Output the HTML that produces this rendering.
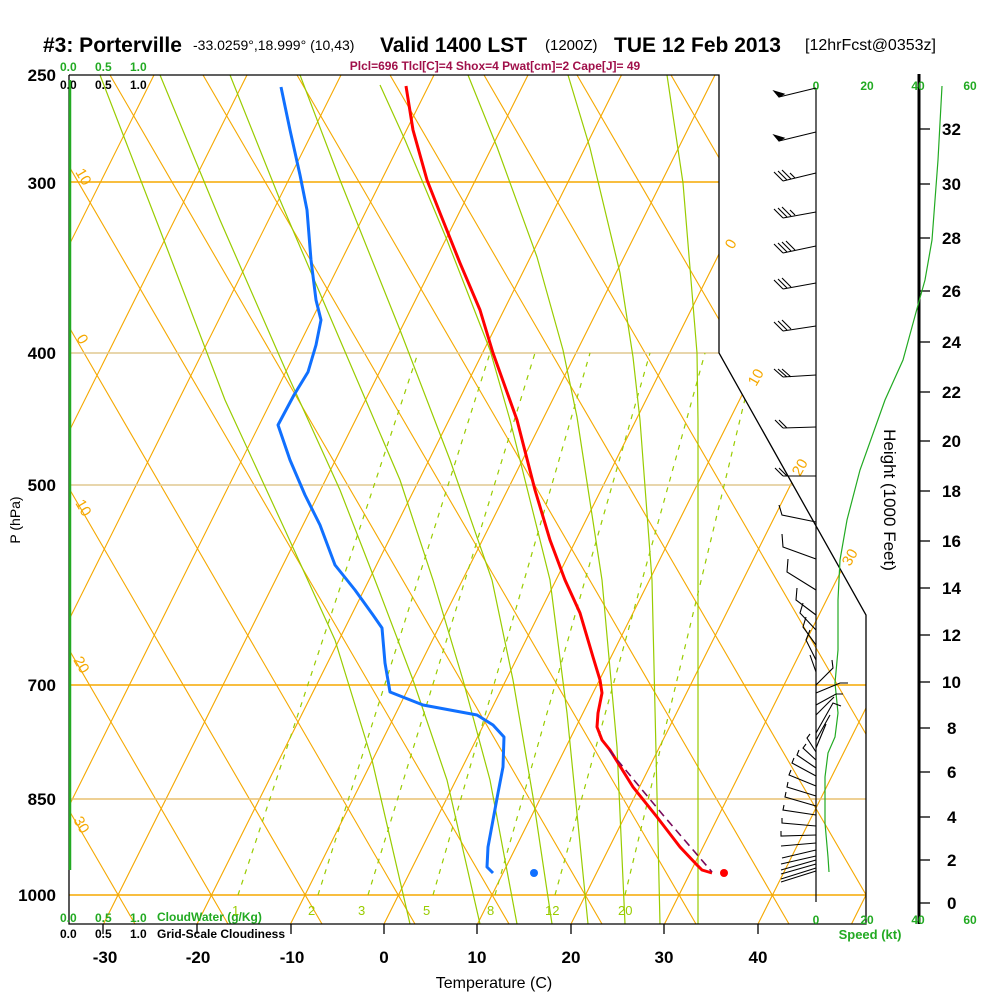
<!DOCTYPE html>
<html><head><meta charset="utf-8"><style>
body{margin:0;background:#fff;}
svg{display:block;font-family:"Liberation Sans",sans-serif;}
</style></head><body>
<svg width="1000" height="1000" viewBox="0 0 1000 1000" xmlns="http://www.w3.org/2000/svg">
<defs><clipPath id="c"><polygon points="69,75 719,75 719,353 866,615 866,924 69,924"/></clipPath></defs>
<rect width="1000" height="1000" fill="#fff"/>
<!-- header -->
<text x="43" y="52" font-size="21" font-weight="bold">#3: Porterville</text>
<text x="193" y="50" font-size="14">-33.0259°,18.999° (10,43)</text>
<text x="380" y="52" font-size="21" font-weight="bold">Valid 1400 LST</text>
<text x="545" y="50" font-size="15">(1200Z)</text>
<text x="614" y="52" font-size="21" font-weight="bold">TUE 12 Feb 2013</text>
<text x="805" y="50" font-size="16">[12hrFcst@0353z]</text>
<text x="495" y="70" font-size="12" font-weight="bold" fill="#a0104a" text-anchor="middle">Plcl=696 Tlcl[C]=4 Shox=4 Pwat[cm]=2 Cape[J]= 49</text>
<g font-size="12" font-weight="bold" fill="#22aa22"><text x="60" y="71">0.0</text><text x="95" y="71">0.5</text><text x="130" y="71">1.0</text></g>
<g font-size="12" font-weight="bold"><text x="60" y="89">0.0</text><text x="95" y="89">0.5</text><text x="130" y="89">1.0</text></g>
<g clip-path="url(#c)">
<g stroke="#f5a800" stroke-width="1.1" fill="none">
<line x1="-364" y1="924" x2="60" y2="75"/><line x1="-270" y1="924" x2="154" y2="75"/><line x1="-177" y1="924" x2="247" y2="75"/><line x1="-83" y1="924" x2="341" y2="75"/><line x1="10" y1="924" x2="434" y2="75"/><line x1="103.5" y1="924" x2="528" y2="75"/><line x1="197" y1="924" x2="621.5" y2="75"/><line x1="290.5" y1="924" x2="715" y2="75"/><line x1="384" y1="924" x2="808.5" y2="75"/><line x1="477.5" y1="924" x2="902" y2="75"/><line x1="571" y1="924" x2="995.5" y2="75"/><line x1="664.5" y1="924" x2="1089" y2="75"/><line x1="758" y1="924" x2="1182.5" y2="75"/><line x1="851.5" y1="924" x2="1276" y2="75"/>
<line x1="135" y1="924" x2="-358" y2="75"/><line x1="228" y1="924" x2="-264" y2="75"/><line x1="322" y1="924" x2="-171" y2="75"/><line x1="415" y1="924" x2="-77" y2="75"/><line x1="509" y1="924" x2="16" y2="75"/><line x1="602" y1="924" x2="110" y2="75"/><line x1="696" y1="924" x2="203" y2="75"/><line x1="789" y1="924" x2="297" y2="75"/><line x1="883" y1="924" x2="390" y2="75"/><line x1="976" y1="924" x2="484" y2="75"/><line x1="1070" y1="924" x2="577" y2="75"/><line x1="1163" y1="924" x2="671" y2="75"/><line x1="1257" y1="924" x2="764" y2="75"/><line x1="1350" y1="924" x2="858" y2="75"/>
</g>
<g stroke-width="1.4"><line x1="69" y1="182" x2="900" y2="182" stroke="#f5a800"/><line x1="69" y1="353" x2="900" y2="353" stroke="#e0c890"/><line x1="69" y1="485" x2="900" y2="485" stroke="#e0c890"/><line x1="69" y1="685" x2="900" y2="685" stroke="#f5a800"/><line x1="69" y1="799" x2="900" y2="799" stroke="#e8c070"/><line x1="69" y1="895" x2="900" y2="895" stroke="#f5a800"/></g>
<g stroke="#99cc00" stroke-width="1.2" fill="none">
<polyline points="100,75 160,230 225,400 285,530 335,640 372,760 410,924"/>
<polyline points="160,75 220,220 290,380 340,490 380,593 413,680 447,780 480,924"/>
<polyline points="230,75 280,200 340,340 400,480 433,580 463,680 490,780 517,924"/>
<polyline points="300,75 340,180 400,330 450,460 492,580 513,680 533,797 552,924"/>
<polyline points="380,85 405,140 447,240 490,350 510,420 550,580 567,713 588,924"/>
<polyline points="468,75 497,147 537,257 563,350 577,417 602,580 617,747 625,924"/>
<polyline points="568,75 590,148 620,273 633,357 640,420 652,580 660,924"/>
<polyline points="667,75 683,183 697,353 698,420 698,924"/>
</g>
<g stroke="#99cc00" stroke-width="1.2" stroke-dasharray="5,6">
<line x1="238" y1="895" x2="418" y2="353"/><line x1="318" y1="895" x2="490" y2="353"/><line x1="368" y1="895" x2="535" y2="353"/><line x1="433" y1="895" x2="590" y2="353"/><line x1="495" y1="895" x2="650" y2="353"/><line x1="555" y1="895" x2="705" y2="353"/><line x1="625" y1="895" x2="752" y2="370"/>
</g>
</g>
<g font-size="13" fill="#99cc00"><text x="232" y="915">1</text><text x="308" y="915">2</text><text x="358" y="915">3</text><text x="423" y="915">5</text><text x="487" y="915">8</text><text x="545" y="915">12</text><text x="618" y="915">20</text></g>
<g font-size="15" fill="#f5a800">
<text transform="translate(75,172) rotate(60)">10</text><text transform="translate(76,338) rotate(60)">0</text><text transform="translate(75,503) rotate(60)">10</text><text transform="translate(73,660) rotate(60)">20</text><text transform="translate(73,820) rotate(60)">30</text>
<text transform="translate(733,250) rotate(-60)">0</text><text transform="translate(756,387) rotate(-60)">10</text><text transform="translate(800,477) rotate(-60)">20</text><text transform="translate(850,567) rotate(-60)">30</text>
</g>
<!-- plot border -->
<polyline points="69,75 719,75 719,353 866,615 866,924 69,924 69,75" fill="none" stroke="#000" stroke-width="1.3"/>
<line x1="70" y1="80" x2="70" y2="870" stroke="#22aa22" stroke-width="2.5"/>
<!-- profiles -->
<polyline fill="none" stroke="#ff0000" stroke-width="3" stroke-linejoin="round" points="406,86 413,130 427,180 440,213 460,263 480,310 493,353 517,420 535,490 550,540 565,580 580,613 593,657 600,680 602,693 598,713 597,727 602,740 610,750 633,787 657,817 680,847 697,865 702,870 712,873"/>
<polyline fill="none" stroke="#7a0a5a" stroke-width="1.6" stroke-dasharray="8,5" points="609,750 663,815 712,872"/>
<polyline fill="none" stroke="#1070ff" stroke-width="3" stroke-linejoin="round" points="281,87 290,130 300,175 307,210 311,260 316,300 321,320 316,345 308,372 294,395 278,425 290,460 305,495 320,525 335,565 355,590 373,615 382,628 385,663 390,692 423,705 477,715 493,725 504,737 503,767 498,793 493,820 488,847 487,867 493,873"/>
<circle cx="724" cy="873" r="4" fill="#ff0000"/><circle cx="534" cy="873" r="4" fill="#1070ff"/>
<!-- left axis -->
<g font-size="17" font-weight="bold" text-anchor="end"><text x="56" y="81">250</text><text x="56" y="189">300</text><text x="56" y="359">400</text><text x="56" y="491">500</text><text x="56" y="691">700</text><text x="56" y="805">850</text><text x="56" y="901">1000</text></g>
<text transform="translate(20,520) rotate(-90)" font-size="14" text-anchor="middle">P (hPa)</text>
<g font-size="12" font-weight="bold" fill="#22aa22"><text x="60" y="922">0.0</text><text x="95" y="922">0.5</text><text x="130" y="922">1.0</text><text x="157" y="921">CloudWater (g/Kg)</text></g>
<g font-size="12" font-weight="bold"><text x="60" y="938">0.0</text><text x="95" y="938">0.5</text><text x="130" y="938">1.0</text><text x="157" y="938">Grid-Scale Cloudiness</text></g>
<g stroke="#000" stroke-width="1.3"><line x1="103" y1="924" x2="103" y2="934"/><line x1="197" y1="924" x2="197" y2="934"/><line x1="291" y1="924" x2="291" y2="934"/><line x1="384" y1="924" x2="384" y2="934"/><line x1="477" y1="924" x2="477" y2="934"/><line x1="571" y1="924" x2="571" y2="934"/><line x1="664" y1="924" x2="664" y2="934"/><line x1="758" y1="924" x2="758" y2="934"/></g>
<g font-size="17" font-weight="bold" text-anchor="middle"><text x="105" y="963">-30</text><text x="198" y="963">-20</text><text x="292" y="963">-10</text><text x="384" y="963">0</text><text x="477" y="963">10</text><text x="571" y="963">20</text><text x="664" y="963">30</text><text x="758" y="963">40</text></g>
<text x="494" y="988" font-size="16" text-anchor="middle">Temperature (C)</text>
<!-- right panel -->
<line x1="816" y1="88" x2="816" y2="902" stroke="#000" stroke-width="1.2"/>
<line x1="919" y1="74" x2="919" y2="924" stroke="#000" stroke-width="3"/>
<g stroke="#000" stroke-width="1.3"><line x1="919" y1="129" x2="930" y2="129"/><line x1="919" y1="184" x2="930" y2="184"/><line x1="919" y1="238" x2="930" y2="238"/><line x1="919" y1="291" x2="930" y2="291"/><line x1="919" y1="342" x2="930" y2="342"/><line x1="919" y1="392" x2="930" y2="392"/><line x1="919" y1="441" x2="930" y2="441"/><line x1="919" y1="491" x2="930" y2="491"/><line x1="919" y1="541" x2="930" y2="541"/><line x1="919" y1="588" x2="930" y2="588"/><line x1="919" y1="635" x2="930" y2="635"/><line x1="919" y1="682" x2="930" y2="682"/><line x1="919" y1="728" x2="930" y2="728"/><line x1="919" y1="772" x2="930" y2="772"/><line x1="919" y1="817" x2="930" y2="817"/><line x1="919" y1="860" x2="930" y2="860"/><line x1="919" y1="903" x2="930" y2="903"/></g>
<g font-size="17" font-weight="bold"><text x="942" y="135">32</text><text x="942" y="190">30</text><text x="942" y="244">28</text><text x="942" y="297">26</text><text x="942" y="348">24</text><text x="942" y="398">22</text><text x="942" y="447">20</text><text x="942" y="497">18</text><text x="942" y="547">16</text><text x="942" y="594">14</text><text x="942" y="641">12</text><text x="942" y="688">10</text><text x="947" y="734">8</text><text x="947" y="778">6</text><text x="947" y="823">4</text><text x="947" y="866">2</text><text x="947" y="909">0</text></g>
<text transform="translate(884,500) rotate(90)" font-size="17" text-anchor="middle">Height (1000 Feet)</text>
<g font-size="12" font-weight="bold" fill="#22aa22" text-anchor="middle"><text x="816" y="90">0</text><text x="867" y="90">20</text><text x="918" y="90">40</text><text x="970" y="90">60</text><text x="816" y="924">0</text><text x="867" y="924">20</text><text x="918" y="924">40</text><text x="970" y="924">60</text></g>
<text x="870" y="939" font-size="13" font-weight="bold" fill="#22aa22" text-anchor="middle">Speed (kt)</text>
<polyline fill="none" stroke="#22aa22" stroke-width="1.2" points="942,86 938,160 932,240 925,280 918,305 903,360 885,400 860,470 847,520 840,560 838,600 838,650 835,683 838,713 835,737 828,753 825,777 825,823 828,857 829,872"/>
<!-- wind barbs -->
<g stroke="#000" stroke-width="1.1" fill="none">
<line x1="816" y1="88" x2="779" y2="97"/><polygon points="779,97 774,91 784,94" fill="#000"/>
<line x1="816" y1="132" x2="779" y2="141"/><polygon points="779,141 774,135 784,138" fill="#000"/>
<path d="M816,173 L783,181 M783,181 l-9,-9 M787,180 l-9,-9 M791,179 l-9,-9 M795,178 l-5,-5"/>
<path d="M816,212 L783,218 M783,218 l-9,-9 M787,217 l-9,-9 M791,216 l-9,-9 M795,215 l-5,-5"/>
<path d="M816,246 L783,253 M783,253 l-9,-9 M787,252 l-9,-9 M791,251 l-9,-9 M795,250 l-9,-9"/>
<path d="M816,283 L783,289 M783,289 l-9,-9 M787,288 l-9,-9 M791,287 l-9,-9"/>
<path d="M816,326 L783,331 M783,331 l-9,-9 M787,330 l-9,-9 M791,329 l-9,-9"/>
<path d="M816,375 L783,377 M783,377 l-9,-8 M787,377 l-9,-8 M791,377 l-9,-8"/>
<path d="M816,427 L783,428 M783,428 l-8,-8 M787,428 l-8,-8"/>
<path d="M816,476 L783,476 M783,476 l-8,-8 M787,476 l-8,-8"/>
<path d="M816,522 L782,515 L779,505"/>
<path d="M816,559 L783,547 L782,534"/>
<path d="M816,590 L787,572 L788,559"/>
<path d="M816,615 L796,600 L797,588"/>
<path d="M816,630 L800,613 L803,603"/>
<path d="M816,645 L803,627 L806,617"/>
<path d="M816,660 L806,640 L810,630"/>
<path d="M816,672 L810,655"/>
<path d="M816,685 L833,668 L832,660"/>
<path d="M816,693 L840,683 L848,683"/>
<path d="M816,705 L836,694 L843,694"/>
<path d="M816,715 L834,697"/>
<path d="M816,733 L833,703 L841,706"/>
<path d="M816,740 L830,715"/>
<path d="M816,748 L826,724"/>
<path d="M816,752 L807,738 L810,734"/>
<path d="M816,760 L803,748 L806,744"/>
<path d="M816,768 L797,755 L799,750"/>
<path d="M816,776 L792,763 L794,758"/>
<path d="M816,786 L789,775 L791,770"/>
<path d="M816,796 L787,787 L788,782"/>
<path d="M816,806 L785,797 L786,792"/>
<path d="M816,815 L783,810 L784,805"/>
<path d="M816,826 L782,823 L782,818"/>
<path d="M816,835 L781,836 L781,831"/>
<path d="M816,843 L781,846"/>
<path d="M816,850 L782,858"/>
<path d="M816,856 L781,864"/>
<path d="M816,860 L781,870"/>
<path d="M816,864 L781,874"/>
<path d="M816,868 L781,879"/>
<path d="M816,871 L781,882"/>
</g>
</svg>
</body></html>
